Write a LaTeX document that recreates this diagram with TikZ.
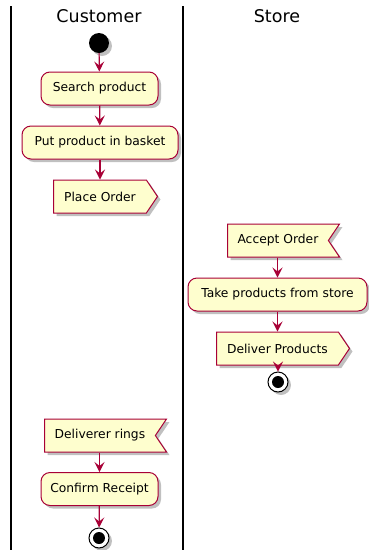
\documentclass[tikz,border=0pt]{standalone}
\usepackage{fontspec}
\setmainfont{DejaVu Sans}
\usepackage{tikz}
\usetikzlibrary{shapes.symbols, arrows.meta, shadows}
\definecolor{umlred}{RGB}{168,0,54}
\definecolor{umlfill}{RGB}{254,254,206}
\definecolor{umlshadow}{RGB}{150,150,150}
\tikzset{
  umlshade/.style={drop shadow={shadow xshift=3pt, shadow yshift=-3pt,
    fill=umlshadow, opacity=0.6}},
  action/.style={rectangle, draw=umlred, fill=umlfill, rounded corners=9pt,
    minimum height=33pt, inner sep=0pt, font=\fontsize{12.3}{14}\selectfont,
    line width=1pt, umlshade},
  sendsig/.style={signal, signal to=east, signal pointer angle=112,
    draw=umlred, fill=umlfill, minimum height=33pt, inner sep=0pt, anchor=west,
    font=\fontsize{12.3}{14}\selectfont, line width=1pt, umlshade},
  recvsig/.style={signal, signal to=nowhere, signal from=east, signal pointer angle=112,
    draw=umlred, fill=umlfill, minimum height=33pt, inner sep=0pt, anchor=west,
    font=\fontsize{12.3}{14}\selectfont, line width=1pt, umlshade},
  startdot/.style={circle, fill=black, minimum size=20pt, inner sep=0pt, umlshade},
  stopdot/.style={circle, draw=black, fill=white, minimum size=20pt, inner sep=0pt,
    line width=1pt, umlshade, path picture={\fill[black] (path picture bounding box.center) circle (6pt);}},
  flow/.style={-{Stealth[length=10pt, width=10pt, inset=4pt]}, color=umlred, line width=1.2pt},
  lane/.style={line width=1.5pt, color=black},
  lanetitle/.style={font=\fontsize{17.5}{20}\selectfont}
}

\begin{document}
\begin{tikzpicture}[x=1pt, y=-1pt]
  \useasboundingbox (0,0) rectangle (368,550);

  % Swimlane borders and titles
  \draw[lane] (11,6) -- (11,550);
  \draw[lane] (183,6) -- (183,550);
  \node[lanetitle] (custTitle) at (99,16) {Customer};
  \node[lanetitle] (storeTitle) at (277,16) {Store};

  % Customer lane
  \node[startdot] (start) at (99,43) {};
  \node[action, minimum width=117pt] (search) at (99.5,88.5) {Search product};
  \node[action, minimum width=156pt] (basket) at (100,142.5) {Put product in basket};
  \node[sendsig, minimum width=104pt] (place) at (53,196.5) {Place Order};

  % Store lane
  \node[recvsig, minimum width=112pt] (accept) at (227,240.5) {Accept Order};
  \node[action, minimum width=179pt] (take) at (277.5,294.5) {Take products from store};
  \node[sendsig, minimum width=133pt] (deliver) at (216,348.5) {Deliver Products};
  \node[stopdot] (storeEnd) at (278,382) {};

  % Customer lane, after delivery
  \node[recvsig, minimum width=122pt] (rings) at (44,435.5) {Deliverer rings};
  \node[action, minimum width=117pt] (confirm) at (99.5,489) {Confirm Receipt};
  \node[stopdot] (custEnd) at (99,538) {};

  % Control flow
  \draw[flow] (start) -- (search);
  \draw[flow] (search) -- (basket);
  \draw[flow] (basket.south) -- (basket.south |- place.north);
  \draw[flow] (accept.south -| take.north) -- (take.north);
  \draw[flow] (take) -- (take |- deliver.north);
  \draw[flow] (deliver.south -| storeEnd.north) -- (storeEnd);
  \draw[flow] (rings.south -| confirm.north) -- (confirm);
  \draw[flow] (confirm) -- (custEnd);
\end{tikzpicture}
\end{document}
